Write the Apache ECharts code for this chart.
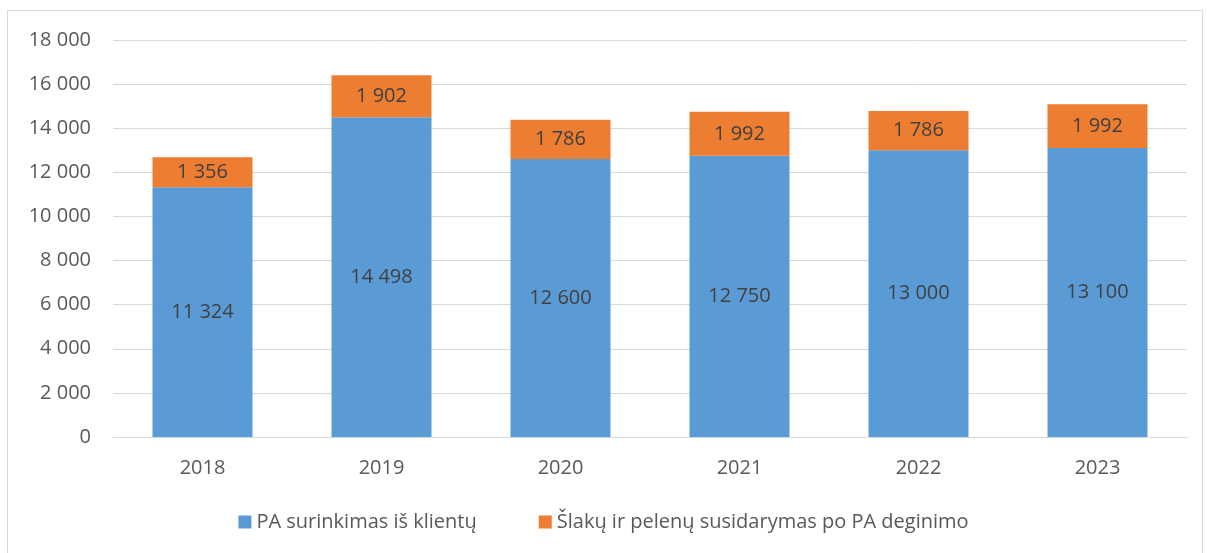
<!DOCTYPE html>
<html>
<head>
<meta charset="utf-8">
<script src="https://cdn.jsdelivr.net/npm/echarts@6/dist/echarts.min.js"></script>
<style>
  html, body { margin: 0; padding: 0; background: #fff; }
  #chart { width: 1207px; height: 553px; }
</style>
</head>
<body>
<div id="chart"></div>
<script>
var years = ['2018', '2019', '2020', '2021', '2022', '2023'];
var surinkimas = [11324, 14498, 12600, 12750, 13000, 13100];
var slakai = [1356, 1902, 1786, 1992, 1786, 1992];
var seriesNames = ['PA surinkimas iš klientų', 'Šlakų ir pelenų susidarymas po PA deginimo'];

function fmt(v) {
    return String(v).replace(/\B(?=(\d{3})+(?!\d))/g, ' ');
}

var chart = echarts.init(document.getElementById('chart'));
var font = '"Open Sans", "Noto Sans", sans-serif';

chart.setOption({
    animation: false,
    textStyle: { fontFamily: font },
    graphic: [{
        type: 'rect',
        shape: { x: 7.5, y: 10.5, width: 1195, height: 560 },
        style: { fill: 'none', stroke: '#d9d9d9', lineWidth: 1 }
    }],
    grid: { left: 113, right: 20, top: 40, bottom: 116 },
    legend: {
        bottom: 16,
        left: 'center',
        itemWidth: 13,
        itemHeight: 13,
        itemGap: 62,
        icon: 'rect',
        textStyle: { color: '#595959', fontSize: 20, fontFamily: font },
        data: seriesNames
    },
    xAxis: {
        type: 'category',
        data: years,
        axisLine: { lineStyle: { color: '#d9d9d9', width: 1 } },
        axisTick: { show: false },
        axisLabel: { color: '#595959', fontSize: 20, margin: 21, fontFamily: font }
    },
    yAxis: {
        type: 'value',
        min: 0,
        max: 18000,
        interval: 2000,
        axisLine: { show: false },
        axisTick: { show: false },
        splitLine: { lineStyle: { color: '#d9d9d9', width: 1 } },
        axisLabel: {
            color: '#595959', fontSize: 20, margin: 22, fontFamily: font,
            formatter: fmt
        }
    },
    series: [{
        name: seriesNames[0],
        type: 'bar',
        stack: 'total',
        barWidth: 100,
        itemStyle: { color: '#5B9BD5' },
        label: {
            show: true, position: 'inside', color: '#404040', fontSize: 20, fontFamily: font,
            formatter: function (p) { return fmt(p.value); }
        },
        data: surinkimas
    }, {
        name: seriesNames[1],
        type: 'bar',
        stack: 'total',
        barWidth: 100,
        itemStyle: { color: '#ED7D31' },
        label: {
            show: true, position: 'inside', color: '#404040', fontSize: 20, fontFamily: font,
            formatter: function (p) { return fmt(p.value); }
        },
        data: slakai
    }]
});
</script>
</body>
</html>
